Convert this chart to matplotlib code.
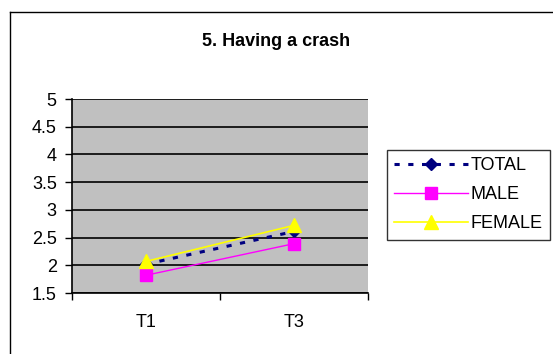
import matplotlib
matplotlib.use("Agg")
import matplotlib.pyplot as plt
from matplotlib.lines import Line2D

categories = ["T1", "T3"]
total = [2.02, 2.61]
male = [1.82, 2.39]
female = [2.07, 2.72]
yticks = [1.5, 2, 2.5, 3, 3.5, 4, 4.5, 5]

plt.rcParams['font.family'] = ['Liberation Sans', 'DejaVu Sans']

fig = plt.figure(figsize=(5.53, 3.54), dpi=100)
W, H = 553, 354
# chart-area border (only left and top visible)
fig.add_artist(Line2D([9.5 / W, 9.5 / W], [0, 1 - 11.5 / H], transform=fig.transFigure,
                      color='black', linewidth=1))
fig.add_artist(Line2D([9.5 / W, 1], [1 - 11.5 / H, 1 - 11.5 / H], transform=fig.transFigure,
                      color='black', linewidth=1))

ax = fig.add_axes([72 / W, 1 - 293 / H, (368 - 72) / W, (293 - 99) / H])
ax.set_facecolor('#C0C0C0')
x = [0.5, 1.5]
ax.plot(x, total, linestyle=(0, (1.7, 2.8)), color='#000080', linewidth=2.2, marker='D',
        markersize=6, label='TOTAL', zorder=3)
ax.plot(x, male, linestyle='-', color='#FF00FF', linewidth=1, marker='s',
        markersize=8, label='MALE', zorder=4)
ax.plot(x, female, linestyle='-', color='#FFFF00', linewidth=1.2, marker='^',
        markersize=10, label='FEMALE', zorder=5)

ax.set_xlim(0, 2)
ax.set_ylim(1.5, 5)
ax.set_yticks(yticks)
ax.set_yticklabels([f"{v:g}" for v in yticks], fontsize=13)
ax.set_xticks([0, 1, 2])
ax.set_xticklabels([])
ax.set_xticks(x, minor=True)
ax.set_xticklabels(categories, minor=True, fontsize=13)
ax.tick_params(axis='x', which='minor', length=0, pad=15)
ax.tick_params(axis='x', which='major', length=5, direction='out', width=1)
ax.tick_params(axis='y', length=5, direction='out', width=1, pad=6)
for v in yticks:
    ax.axhline(v, color='black', linewidth=1.2, zorder=1)
ax.spines['top'].set_visible(False)
ax.spines['right'].set_visible(False)
ax.spines['left'].set_linewidth(1.2)
ax.spines['bottom'].set_linewidth(1.2)

fig.text(276 / W, 1 - 42 / H, "5. Having a crash", fontsize=13, fontweight='bold',
         ha='center', va='center')

leg = fig.legend(loc='upper left', bbox_to_anchor=(387 / W, 1 - 150 / H), fontsize=13,
                 frameon=True, fancybox=False, edgecolor='black', handlelength=4.1,
                 handletextpad=0.15, borderpad=0.4, labelspacing=0.67, borderaxespad=0)
leg.get_frame().set_linewidth(1)

fig.savefig("out.png", dpi=100)
